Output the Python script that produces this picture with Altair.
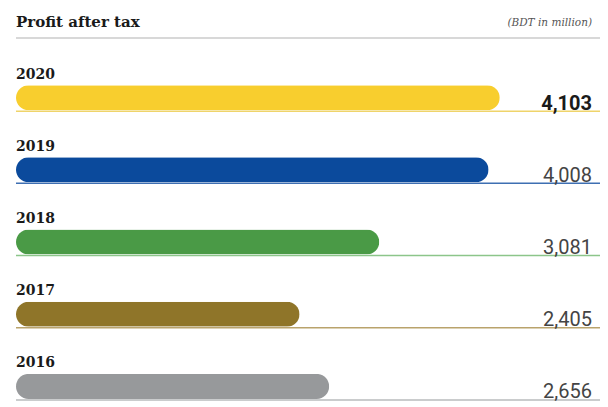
import altair as alt
import pandas as pd

years = [2020, 2019, 2018, 2017, 2016]
values = [4103, 4008, 3081, 2405, 2656]
bar_colors = ["#F8CE2E", "#0B4A9C", "#4A9A46", "#8F7529", "#97999B"]
line_colors = ["#EFD46A", "#3E6FB2", "#8CC58A", "#B9A36C", "#B9BBBD"]
highlight = [True, False, False, False, False]
title_text = "Profit after tax"
unit_text = "(BDT in million)"

X_MAX = 4953
df = pd.DataFrame({"year": years, "value": values, "highlight": highlight})

xs = alt.Scale(domain=[0, X_MAX], nice=False, zero=True)
ys = alt.Scale(domain=[2015.784, 2021.284], nice=False, zero=False)
X = alt.X("value:Q", scale=xs, axis=None)
Y = alt.Y("year:Q", scale=ys, axis=None)

base = alt.Chart(df)

bars = base.mark_bar(orient="horizontal", size=25, cornerRadius=12.5).encode(
    x=X, y=Y,
    color=alt.Color("year:N", scale=alt.Scale(domain=years, range=bar_colors), legend=None),
)

rules = base.mark_rule(strokeWidth=1.5, yOffset=13.5).encode(
    x=alt.X(datum=0, scale=xs, axis=None),
    x2=alt.X2(datum=X_MAX),
    y=Y,
    color=alt.Color("year:N", scale=alt.Scale(domain=years, range=line_colors), legend=None),
)

year_labels = base.mark_text(
    align="left", baseline="alphabetic", dy=-19, font="DejaVu Serif",
    fontWeight="bold", fontSize=14, color="#1a1a1a",
).encode(
    x=alt.X(datum=0, scale=xs, axis=None), y=Y, text=alt.Text("year:N"),
)

val_normal = base.transform_filter("!datum.highlight").mark_text(
    align="right", baseline="alphabetic", dy=12, dx=-8, font="Roboto",
    fontSize=20, fontWeight=400, color="#444444",
).encode(
    x=alt.X(datum=X_MAX, scale=xs, axis=None), y=Y, text=alt.Text("value:Q", format=","),
)

val_bold = base.transform_filter("datum.highlight").mark_text(
    align="right", baseline="alphabetic", dy=12, dx=-8, font="Roboto",
    fontSize=20, fontWeight="bold", color="#1a1a1a",
).encode(
    x=alt.X(datum=X_MAX, scale=xs, axis=None), y=Y, text=alt.Text("value:Q", format=","),
)

hdf = pd.DataFrame({"title": [title_text], "unit": [unit_text]})
hbase = alt.Chart(hdf)
title = hbase.mark_text(
    align="left", baseline="alphabetic", font="DejaVu Serif", fontWeight="bold",
    fontSize=15, color="#1a1a1a",
).encode(x=alt.value(0), y=alt.value(27), text="title:N")
unit = hbase.mark_text(
    align="right", baseline="alphabetic", font="DejaVu Serif", fontStyle="italic",
    fontSize=10.5, color="#555555",
).encode(x=alt.value(576), y=alt.value(26), text="unit:N")
hrule = hbase.mark_rule(color="#D8D8D8", strokeWidth=2).encode(
    x=alt.value(0), x2=alt.value(584), y=alt.value(38)
)

chart = alt.layer(rules, bars, year_labels, val_normal, val_bold, hrule, title, unit).resolve_scale(
    color="independent"
).properties(
    width=584, height=407,
    padding={"left": 16, "right": 8, "top": 0, "bottom": 0},
    autosize=alt.AutoSizeParams(type="none"),
    background="white",
).configure_view(stroke=None)

chart.save("out.html", embed_options={"renderer": "svg", "actions": False})
